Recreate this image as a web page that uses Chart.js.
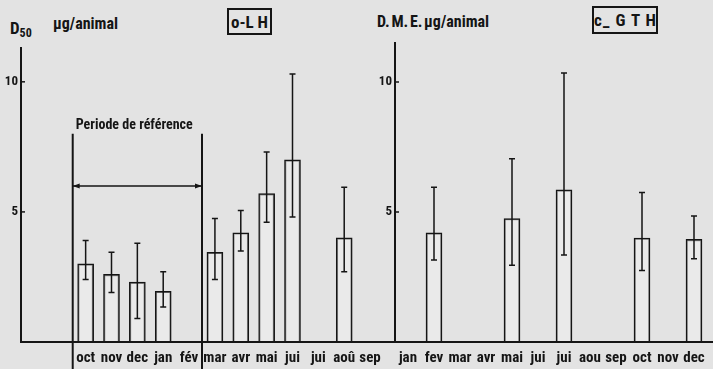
<!DOCTYPE html>
<html>
<head>
<meta charset="utf-8">
<script src="https://cdn.jsdelivr.net/npm/chart.js@4.4.0/dist/chart.umd.min.js"></script>
<style>
  body {
    margin: 0;
    background: #e3e3e3;
    width: 713px;
    height: 369px;
    overflow: hidden;
    position: relative;
    font-family: 'Roboto Condensed', sans-serif;
    font-weight: bold;
    color: #151515;
  }
  canvas { position: absolute; top: 0; }
  #lh { left: 0; }
  #gth { left: 360px; }
  .t { position: absolute; white-space: nowrap; line-height: 1; }
  .box {
    position: absolute;
    border: 2px solid #151515;
    box-sizing: border-box;
    text-align: center;
    white-space: nowrap;
    line-height: 1;
  }
</style>
</head>
<body>

<div class="t" style="left:10px;top:20px;font-size:17px">D<span style="font-size:12px;position:relative;top:3px">50</span></div>
<div class="t" style="left:53px;top:16px;font-size:16px">µg/animal</div>
<div class="box" style="left:227px;top:8px;width:45px;height:27px;font-size:17px;padding-top:4px">o-L H</div>

<div class="t" style="left:377px;top:14px;font-size:16px;word-spacing:-2px">D. M. E. µg/animal</div>
<div class="box" style="left:592px;top:6px;width:66px;height:28px;font-size:17px;padding-top:4px;letter-spacing:1px">c_ G T H</div>

<canvas id="lh" width="400" height="369"></canvas>
<canvas id="gth" width="353" height="369"></canvas>

<script>
// o-LH, by month (two blank slots before oct)
const monthsLH = ["", "", "oct", "nov", "dec", "jan", "fév", "mar", "avr", "mai", "jui", "jui", "aoû", "sep"];
const meanLH = [null, null, 3.0, 2.6, 2.3, 1.95, null, 3.45, 4.2, 5.7, 7.0, null, 4.0, null];
const highLH = [null, null, 3.9, 3.45, 3.8, 2.7, null, 4.75, 5.05, 7.3, 10.3, null, 5.95, null];
const lowLH = [null, null, 2.4, 1.9, 0.9, 1.35, null, 2.4, 3.5, 4.6, 4.8, null, 2.7, null];

// c-GTH, by month
const monthsGTH = ["jan", "fev", "mar", "avr", "mai", "jui", "jui", "aou", "sep", "oct", "nov", "dec"];
const meanGTH = [null, 4.2, null, null, 4.75, null, 5.85, null, null, 4.0, null, 3.95];
const highGTH = [null, 5.95, null, null, 7.05, null, 10.35, null, null, 5.75, null, 4.85];
const lowGTH = [null, 3.15, null, null, 2.95, null, 3.35, null, null, 2.75, null, 3.2];

// reference period: from oct to fév
const refFirst = 2;
const refLast = 6;
const refTop = 8;
const refArrow = 6;

const yTicks = [5, 10];

const INK = "#151515";
const FONT = "'Roboto Condensed', sans-serif";

const errorBars = {
    id: "errorBars",
    afterDatasetsDraw(chart, args, opts) {
        const { ctx } = chart;
        const x = chart.scales.x, y = chart.scales.y;
        ctx.save();
        ctx.strokeStyle = INK;
        ctx.lineWidth = 1.5;
        opts.low.forEach((lo, i) => {
            const hi = opts.high[i];
            if (lo == null || hi == null) return;
            const px = x.getPixelForValue(i);
            const yt = y.getPixelForValue(hi);
            const yb = y.getPixelForValue(lo);
            ctx.beginPath();
            ctx.moveTo(px, yt); ctx.lineTo(px, yb);
            ctx.moveTo(px - 3, yt); ctx.lineTo(px + 3, yt);
            ctx.moveTo(px - 3, yb); ctx.lineTo(px + 3, yb);
            ctx.stroke();
        });
        ctx.restore();
    }
};

// x baseline running to the canvas edge, plus small inward ticks on y
const baseline = {
    id: "baseline",
    afterDraw(chart) {
        const { ctx, chartArea } = chart;
        const y = chart.scales.y;
        const y0 = y.getPixelForValue(0);
        ctx.save();
        ctx.strokeStyle = INK;
        ctx.lineWidth = 2;
        ctx.beginPath();
        ctx.moveTo(chartArea.left, y0);
        ctx.lineTo(chart.width, y0);
        ctx.stroke();
        ctx.lineWidth = 1.5;
        yTicks.forEach(v => {
            const py = y.getPixelForValue(v);
            ctx.beginPath();
            ctx.moveTo(chartArea.left, py);
            ctx.lineTo(chartArea.left + 4, py);
            ctx.stroke();
        });
        ctx.restore();
    }
};

const refPeriod = {
    id: "refPeriod",
    afterDraw(chart) {
        const { ctx } = chart;
        const x = chart.scales.x, y = chart.scales.y;
        const xa = (x.getPixelForValue(refFirst - 1) + x.getPixelForValue(refFirst)) / 2;
        const xb = (x.getPixelForValue(refLast) + x.getPixelForValue(refLast + 1)) / 2;
        const yt = y.getPixelForValue(refTop);
        const ya = y.getPixelForValue(refArrow);
        ctx.save();
        ctx.strokeStyle = INK;
        ctx.fillStyle = INK;
        ctx.lineWidth = 2;
        ctx.beginPath();
        ctx.moveTo(xa, yt); ctx.lineTo(xa, chart.height);
        ctx.moveTo(xb, yt); ctx.lineTo(xb, chart.height);
        ctx.stroke();
        ctx.lineWidth = 1.5;
        ctx.beginPath();
        ctx.moveTo(xa, ya); ctx.lineTo(xb, ya);
        ctx.stroke();
        [[xa, 1], [xb, -1]].forEach(([px, d]) => {
            ctx.beginPath();
            ctx.moveTo(px, ya);
            ctx.lineTo(px + d * 7, ya - 2.5);
            ctx.lineTo(px + d * 7, ya + 2.5);
            ctx.closePath();
            ctx.fill();
        });
        ctx.font = "bold 14px " + FONT;
        ctx.textBaseline = "middle";
        ctx.fillText("Periode de référence", xa + 3, yt - 8);
        ctx.restore();
    }
};

function makeChart(id, labels, values, low, high, opt) {
    return new Chart(document.getElementById(id), {
        type: "bar",
        data: {
            labels: labels,
            datasets: [{
                data: values,
                backgroundColor: "rgba(238,238,238,0.6)",
                borderColor: INK,
                borderWidth: 1.5,
                borderSkipped: "bottom",
                barThickness: 16
            }]
        },
        options: {
            responsive: false,
            animation: false,
            devicePixelRatio: 1,
            layout: { padding: { top: opt.top, right: opt.right, left: 0, bottom: 0 } },
            plugins: {
                legend: { display: false },
                tooltip: { enabled: false },
                errorBars: { low: low, high: high }
            },
            scales: {
                x: {
                    grid: { display: false, drawTicks: false },
                    border: { display: false },
                    ticks: {
                        color: INK,
                        font: { family: FONT, size: 15, weight: "bold" },
                        padding: 7,
                        maxRotation: 0,
                        autoSkip: false
                    },
                    afterFit: s => { s.height = 27; }
                },
                y: {
                    min: 0,
                    max: opt.max,
                    grid: { display: false, drawTicks: false },
                    border: { display: true, color: INK, width: 2 },
                    ticks: {
                        stepSize: 5,
                        color: INK,
                        padding: 3,
                        font: { family: FONT, size: 13, weight: "bold" },
                        callback: v => yTicks.includes(v) ? v : ""
                    },
                    afterFit: s => { s.width = opt.axisWidth; }
                }
            }
        },
        plugins: opt.plugins
    });
}

makeChart("lh", monthsLH, meanLH, lowLH, highLH, {
    top: 48, right: 17, max: 11.3, axisWidth: 21,
    plugins: [errorBars, baseline, refPeriod]
});

makeChart("gth", monthsGTH, meanGTH, lowGTH, highGTH, {
    top: 43, right: 6, max: 11.5, axisWidth: 35,
    plugins: [errorBars, baseline]
});
</script>
</body>
</html>
